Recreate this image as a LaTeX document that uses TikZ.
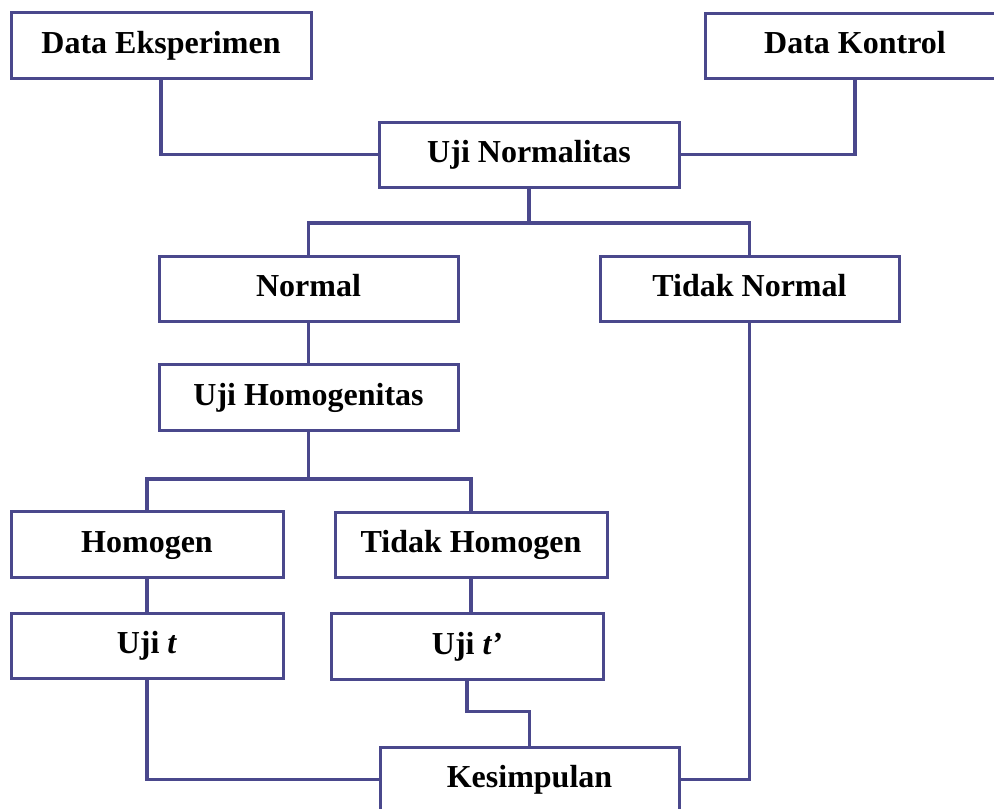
\documentclass[tikz,border=0pt]{standalone}
\usepackage{fontspec}
\setmainfont{Liberation Serif}
\definecolor{lineblue}{RGB}{74,72,140}
\tikzset{
  box/.style={draw=lineblue, line width=3pt, fill=white, rectangle, inner sep=0pt,
    font=\bfseries\fontsize{32}{38}\selectfont, text height=22pt, text depth=6pt, align=center},
  conn/.style={draw=lineblue, line width=3.5pt}
}
\begin{document}
\begin{tikzpicture}[x=1pt,y=-1pt]
\useasboundingbox (0,0) rectangle (994,809);
\clip (0,0) rectangle (994,809);
\node[box, minimum width=300pt, minimum height=66pt] (de) at (161,45) {Data Eksperimen};
\node[box, minimum width=300pt, minimum height=65pt] (dk) at (855,45.5) {Data Kontrol};
\node[box, minimum width=300pt, minimum height=65pt] (un) at (529,154.5) {Uji Normalitas};
\node[box, minimum width=299pt, minimum height=65pt] (nm) at (308.5,288.5) {Normal};
\node[box, minimum width=299pt, minimum height=65pt] (tn) at (749.5,288.5) {Tidak Normal};
\node[box, minimum width=299pt, minimum height=66pt] (uh) at (308.5,397) {Uji Homogenitas};
\node[box, minimum width=272pt, minimum height=66pt] (hm) at (147,544) {Homogen};
\node[box, minimum width=272pt, minimum height=65pt] (th) at (471,544.5) {Tidak Homogen};
\node[box, minimum width=272pt, minimum height=65pt] (ut) at (147,645.5) {Uji \textit{t}};
\node[box, minimum width=272pt, minimum height=66pt] (utp) at (467,646) {Uji \textit{t’}};
\node[box, minimum width=299pt, minimum height=65pt] (ks) at (529.5,779.5) {Kesimpulan};
\coordinate (b1) at (529,223);
\coordinate (b2) at (308.5,479);
\draw[conn] (de.south) |- (un.west);
\draw[conn] (dk.south) |- (un.east);
\draw[conn] (un.south) -- (b1);
\draw[conn] (nm.north) |- (b1) -| (tn.north);
\draw[conn] (nm.south) -- (uh.north);
\draw[conn] (uh.south) -- (b2);
\draw[conn] (hm.north) |- (b2) -| (th.north);
\draw[conn] (hm.south) -- (ut.north);
\draw[conn] (th.south) -- (th.south |- utp.north);
\draw[conn] (utp.south) -- ++(0,31) -| (ks.north);
\draw[conn] (ut.south) |- (ks.west);
\draw[conn] (tn.south) |- (ks.east);
\end{tikzpicture}
\end{document}
